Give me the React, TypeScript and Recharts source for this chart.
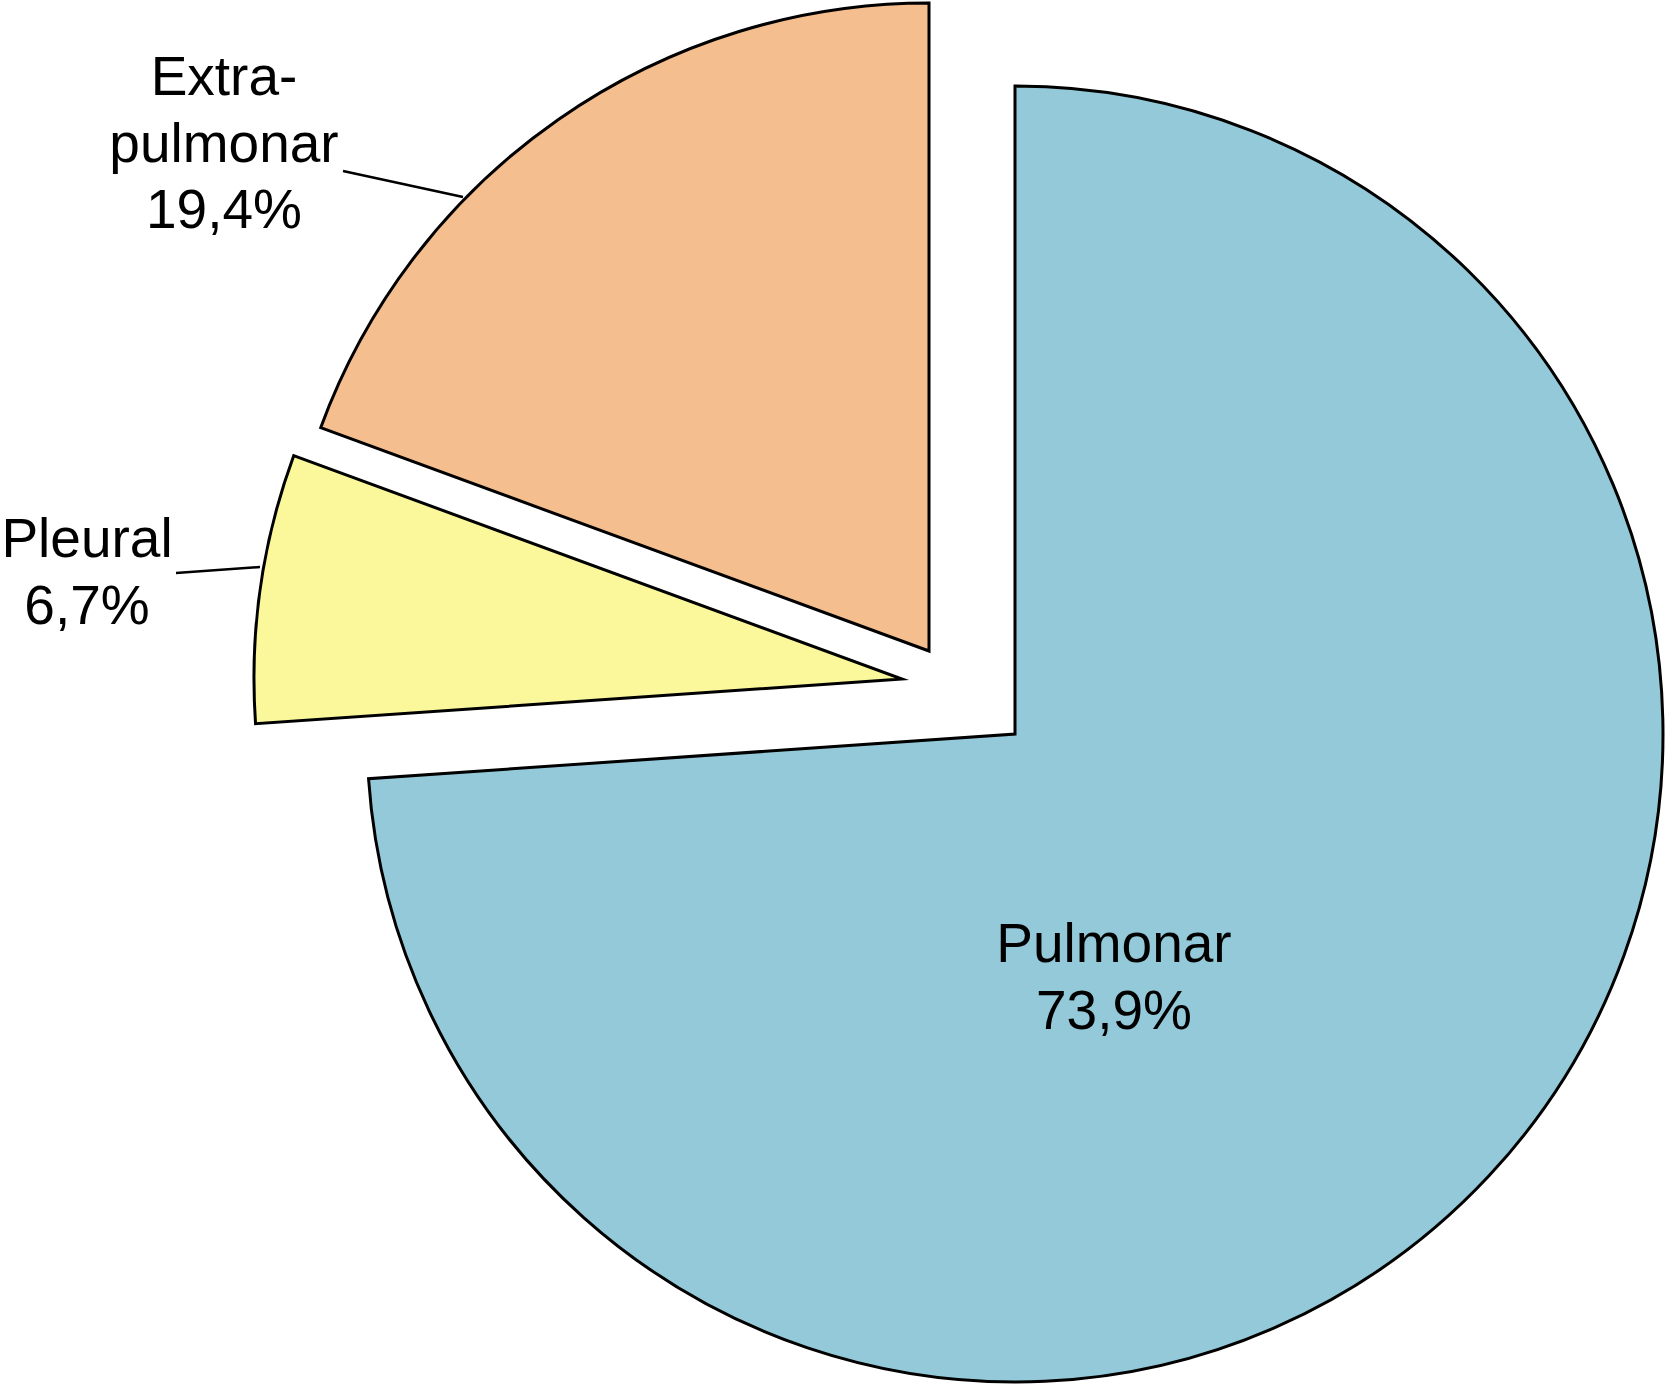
import React from 'react';
import { PieChart, Pie, Cell } from 'recharts';

// tuberculosis forms, share in %
const categories = ['Pulmonar', 'Pleural', 'Extra-pulmonar'];
const values = [73.9, 6.7, 19.4];
const labelLines = [['Pulmonar'], ['Pleural'], ['Extra-', 'pulmonar']];

const colors = ['#93c9d8', '#faf89b', '#f5be8f'];

// each slice is drawn by its own Pie, pulled apart from the others
const centers = [
  { cx: 1015, cy: 734 },
  { cx: 902, cy: 679 },
  { cx: 929, cy: 651 },
];

// where the text sits (first baseline) and the leader line, if any
const labelPos = [
  { x: 1114, y: 962, line: null },
  { x: 87, y: 557, line: [176, 573, 260, 567] },
  { x: 224, y: 95, line: [343, 171, 463, 197] },
];

const data = categories.map((name, i) => ({ name, value: values[i] }));

const fmt = (v: number) => `${v.toFixed(1).replace('.', ',')}%`;

const renderLabel = (props: any, k: number) => {
  if (props.index !== k) return null;
  const pos = labelPos[k];
  const lines = [...labelLines[k], fmt(values[k])];
  return (
    <g key={`lbl-${k}`}>
      {pos.line && (
        <line
          x1={pos.line[0]}
          y1={pos.line[1]}
          x2={pos.line[2]}
          y2={pos.line[3]}
          stroke="#000"
          strokeWidth={2.5}
        />
      )}
      <text
        x={pos.x}
        y={pos.y}
        textAnchor="middle"
        fontFamily="'Liberation Sans', Arial, sans-serif"
        fontSize={55}
        fill="#000"
      >
        {lines.map((t, j) => (
          <tspan key={j} x={pos.x} dy={j === 0 ? 0 : 66.5}>
            {t}
          </tspan>
        ))}
      </text>
    </g>
  );
};

export default function App() {
  return (
    <div style={{ position: 'absolute', left: 0, top: 0, width: 1667, height: 1387, background: '#fff' }}>
      <PieChart width={1667} height={1387} margin={{ top: 0, right: 0, bottom: 0, left: 0 }}>
        {centers.map((c, k) => (
          <Pie
            key={categories[k]}
            data={data}
            dataKey="value"
            nameKey="name"
            cx={c.cx}
            cy={c.cy}
            outerRadius={648}
            startAngle={90}
            endAngle={-270}
            label={(p: any) => renderLabel(p, k)}
            labelLine={false}
            isAnimationActive={false}
          >
            {data.map((d, i) => (
              <Cell
                key={d.name}
                fill={i === k ? colors[i] : 'none'}
                stroke={i === k ? '#000' : 'none'}
                strokeWidth={3}
                strokeLinejoin="miter"
                strokeMiterlimit={10}
              />
            ))}
          </Pie>
        ))}
      </PieChart>
    </div>
  );
}
